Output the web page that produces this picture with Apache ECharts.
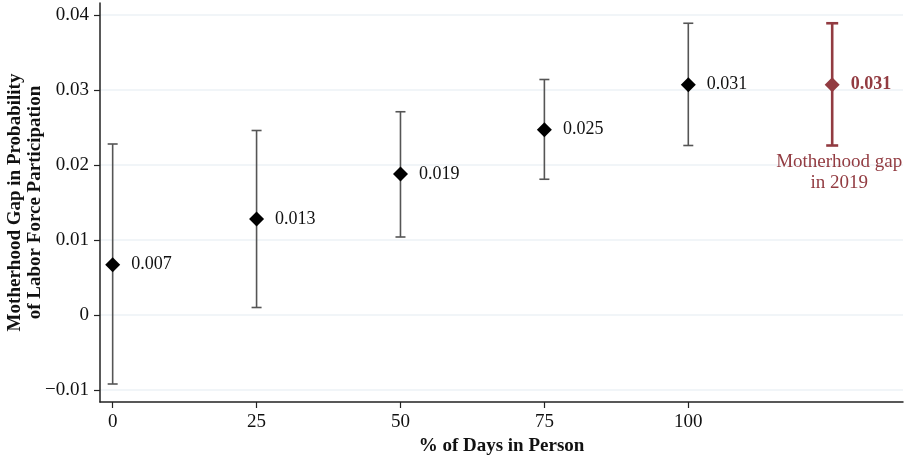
<!DOCTYPE html>
<html>
<head>
<meta charset="utf-8">
<script src="https://cdn.jsdelivr.net/npm/echarts@6/dist/echarts.min.js"></script>
<style>html,body{margin:0;padding:0;background:#fff;}#c{width:909px;height:459px;}</style>
</head>
<body>
<div id="c"></div>
<script>
// ---- data ----
var xValues = [0, 25, 50, 75, 100];
var estimates = [0.0067, 0.0128, 0.0188, 0.0247, 0.0307];
var ciLow = [-0.0092, 0.0010, 0.0104, 0.0181, 0.0226];
var ciHigh = [0.0228, 0.0246, 0.0271, 0.0314, 0.0389];
var pointLabels = ['0.007', '0.013', '0.019', '0.025', '0.031'];

var refX = 125;
var refEstimate = 0.0307;
var refLow = 0.0226;
var refHigh = 0.0389;
var refLabel = '0.031';
var refNote = 'Motherhood gap\nin 2019';

var xTicks = [0, 25, 50, 75, 100];
var yTicks = [-0.01, 0, 0.01, 0.02, 0.03, 0.04];

var xTitle = '% of Days in Person';
var yTitle = 'Motherhood Gap in Probability\nof Labor Force Participation';

// ---- styles ----
var FONT = '"Liberation Serif", "Times New Roman", serif';
var RED = '#923b41';
var GRAY = '#555555';

function errorBar(color, lw, hw, note) {
  return function (params, api) {
    var x = api.value(0), lo = api.value(1), hi = api.value(2);
    var a = api.coord([x, lo]), b = api.coord([x, hi]);
    var st = { stroke: color, lineWidth: lw };
    var children = [
      { type: 'line', shape: { x1: a[0], y1: a[1], x2: b[0], y2: b[1] }, style: st },
      { type: 'line', shape: { x1: a[0] - hw, y1: a[1], x2: a[0] + hw, y2: a[1] }, style: st },
      { type: 'line', shape: { x1: b[0] - hw, y1: b[1], x2: b[0] + hw, y2: b[1] }, style: st }
    ];
    if (note) {
      children.push({
        type: 'text',
        style: {
          text: note, x: a[0] + 7, y: a[1] + 6,
          fill: color, font: '19px ' + FONT,
          textAlign: 'center', textVerticalAlign: 'top', lineHeight: 21
        }
      });
    }
    return { type: 'group', children: children };
  };
}

var barData = xValues.map(function (x, i) { return [x, ciLow[i], ciHigh[i]]; });
var ptData = xValues.map(function (x, i) { return [x, estimates[i], pointLabels[i]]; });

var chart = echarts.init(document.getElementById('c'), null, { renderer: 'canvas' });
chart.setOption({
  animation: false,
  backgroundColor: '#ffffff',
  grid: { left: 100, right: 6, top: 3, bottom: 57, containLabel: false, outerBoundsMode: 'none' },
  xAxis: {
    type: 'value', min: -2.2, max: 137.3,
    name: xTitle, nameLocation: 'middle', nameGap: 35, nameMoveOverlap: false,
    nameTextStyle: { fontFamily: FONT, fontWeight: 'bold', fontSize: 19, color: '#111' },
    axisLine: { show: true, onZero: false, lineStyle: { color: '#222', width: 1.5 } },
    axisTick: { show: true, length: 6, lineStyle: { color: '#222', width: 1.2 }, customValues: xTicks },
    axisLabel: { fontFamily: FONT, fontSize: 19, color: '#111', margin: 11, customValues: xTicks },
    splitLine: { show: false }
  },
  yAxis: {
    type: 'value', min: -0.0116, max: 0.0416,
    name: yTitle, nameLocation: 'middle', nameGap: 55, nameMoveOverlap: false,
    nameTextStyle: { fontFamily: FONT, fontWeight: 'bold', fontSize: 19, color: '#111', lineHeight: 20 },
    axisLine: { show: true, onZero: false, lineStyle: { color: '#222', width: 1.5 } },
    axisTick: { show: true, length: 6, lineStyle: { color: '#222', width: 1.2 }, customValues: yTicks },
    axisLabel: {
      fontFamily: FONT, fontSize: 19, color: '#111', margin: 11, customValues: yTicks,
      formatter: function (v) { return v < 0 ? '\u2212' + String(Math.abs(v)) : String(v); }
    },
    splitLine: { show: true, lineStyle: { color: '#ecf2f6', width: 1.5 } }
  },
  series: [
    {
      type: 'custom', renderItem: errorBar(GRAY, 1.6, 5, null),
      data: barData, z: 2, silent: true
    },
    {
      type: 'custom', renderItem: errorBar(RED, 2.6, 6, refNote),
      data: [[refX, refLow, refHigh]], z: 2, silent: true
    },
    {
      type: 'scatter', symbol: 'diamond', symbolSize: 15, z: 5,
      itemStyle: { color: '#000', opacity: 1 },
      label: {
        show: true, position: 'right', distance: 11,
        fontFamily: FONT, fontSize: 18, color: '#111',
        formatter: function (p) { return p.value[2]; }
      },
      data: ptData
    },
    {
      type: 'scatter', symbol: 'diamond', symbolSize: 15, z: 5,
      itemStyle: { color: RED, opacity: 1 },
      label: {
        show: true, position: 'right', distance: 11,
        fontFamily: FONT, fontSize: 18, fontWeight: 'bold', color: RED,
        formatter: function (p) { return p.value[2]; }
      },
      data: [[refX, refEstimate, refLabel]]
    }
  ]
});
</script>
</body>
</html>
